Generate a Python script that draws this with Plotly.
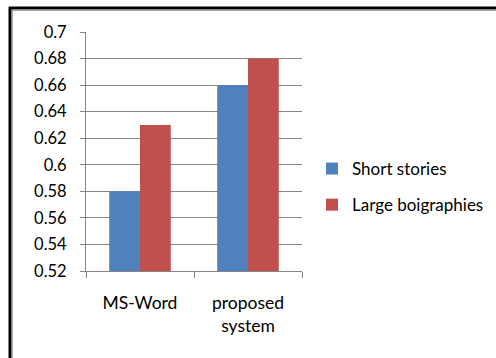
import plotly.graph_objects as go

categories = ["MS-Word", "proposed<br>system"]
short_stories = [0.58, 0.66]
large_biographies = [0.63, 0.68]
series_names = ["Short stories", "Large boigraphies"]
tick_vals = [0.52, 0.54, 0.56, 0.58, 0.6, 0.62, 0.64, 0.66, 0.68, 0.7]
tick_text = ["0.52", "0.54", "0.56", "0.58", "0.6", "0.62", "0.64", "0.66", "0.68", "0.7"]

W, H = 496, 358
L, R, T, B = 86, 194, 32, 87
pw, ph = W - L - R, H - T - B

def px(x):
    return (x - L) / pw

def py(y):
    return (H - B - y) / ph

fam = "Lato, Open Sans, sans-serif"
font = dict(family=fam, size=17.5, color="#000000")
lfont = dict(family=fam, size=17, color="#000000")
yfont = dict(family=fam, size=16.5, color="#000000")

fig = go.Figure()
fig.add_trace(go.Bar(x=categories, y=short_stories, name=series_names[0],
                     marker=dict(color="#4F81BD", line=dict(width=0)), legendgroup="a"))
fig.add_trace(go.Bar(x=categories, y=large_biographies, name=series_names[1],
                     marker=dict(color="#C0504D", line=dict(width=0)), legendgroup="b"))

shapes = [
    dict(type="line", xref="paper", yref="paper", x0=px(9), x1=px(500), y0=py(8), y1=py(8),
         line=dict(color="#000000", width=3)),
    dict(type="line", xref="paper", yref="paper", x0=px(10), x1=px(10), y0=py(7), y1=py(362),
         line=dict(color="#000000", width=3)),
    dict(type="line", xref="paper", yref="paper", x0=px(12), x1=px(500), y0=py(10), y1=py(10),
         line=dict(color="#888888", width=1.5)),
    dict(type="line", xref="paper", yref="paper", x0=px(12), x1=px(12), y0=py(10), y1=py(362),
         line=dict(color="#888888", width=1.5)),
]

fig.update_layout(
    width=W, height=H,
    margin=dict(l=L, r=R, t=T, b=B, autoexpand=False),
    paper_bgcolor="white", plot_bgcolor="white",
    barmode="group", bargap=0.43, bargroupgap=0,
    font=font,
    showlegend=True,
    legend=dict(xref="container", yref="container", x=312 / W, y=1 - 151 / H,
                xanchor="left", yanchor="top",
                font=lfont, traceorder="grouped", tracegroupgap=11,
                bgcolor="rgba(0,0,0,0)", itemwidth=30),
    shapes=shapes,
    xaxis=dict(showgrid=False, showline=True, linecolor="#868686", linewidth=1,
               ticks="outside", tickson="boundaries", ticklen=6, tickcolor="#868686",
               tickfont=font, ticklabelstandoff=16, fixedrange=True, automargin=False),
    yaxis=dict(range=[0.52, 0.7], tickvals=tick_vals, ticktext=tick_text,
               showgrid=True, gridcolor="#868686", gridwidth=1,
               showline=True, linecolor="#868686", linewidth=1,
               ticks="outside", ticklen=5, tickcolor="#868686",
               tickfont=yfont, ticklabelstandoff=10, zeroline=False, fixedrange=True,
               automargin=False),
)

fig.write_html("out.html")
